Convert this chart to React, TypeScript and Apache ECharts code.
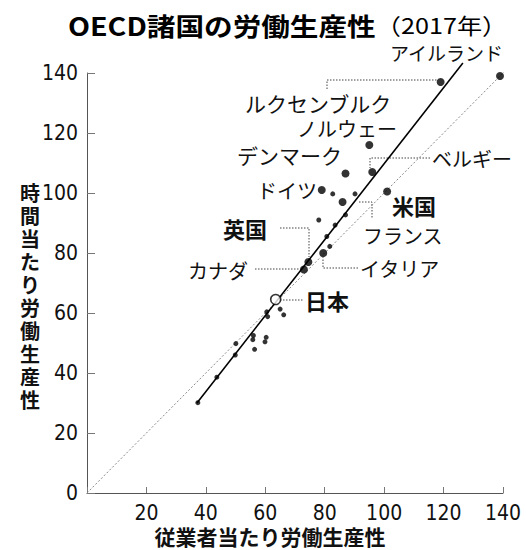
import React, { useEffect, useRef } from 'react';
import * as echarts from 'echarts';

// Labelled countries: [per worker, per hour] (index, US ≈ 100)
const countryNames = ['アイルランド', 'ルクセンブルク', 'ノルウェー', 'ベルギー', 'デンマーク', '米国', 'ドイツ', 'フランス', 'イタリア', '英国', 'カナダ', '日本'];
const countryPerWorker = [139, 119, 95, 96, 87, 101, 79, 86, 79.5, 74.5, 73, 63.5];
const countryPerHour = [139, 137, 116, 107, 106.5, 100.5, 101, 97, 80, 77, 74.5, 64.5];

// Other OECD countries (unlabelled)
const otherPerWorker = [82.7, 90.2, 78, 83.5, 87, 80.7, 81.7, 60.5, 60.8, 65, 66.2, 56, 55.8, 60.3, 59.9, 56.4, 50.1, 49.9, 43.7, 37.3];
const otherPerHour = [99.7, 99.7, 91, 89.3, 92.7, 85.5, 82.2, 60.4, 58.8, 61.3, 59.4, 52.5, 51.1, 51.9, 50.4, 47.9, 49.8, 46, 38.6, 30.1];

// Trend line endpoints and the parity (y = x) line endpoints
const trendPerWorker = [37, 126.5];
const trendPerHour = [30, 143.3];
const parityPerWorker = [0, 143];
const parityPerHour = [0, 143];

const axisMin = 0;
const axisMax = 140;
const axisStep = 20;

const titleMain = 'OECD諸国の労働生産性';
const titleSub = '（2017年）';
const xAxisName = '従業者当たり労働生産性';
const yAxisName = '時間当たり労働生産性';

const JP = '"Noto Sans CJK JP", "Noto Sans", sans-serif';
const NUM = '"Liberation Sans Narrow", "DejaVu Sans Condensed", "Liberation Sans", sans-serif';

export default function App() {
  const ref = useRef<HTMLDivElement>(null);
  useEffect(() => {
    if (!ref.current) return;
    const chart = echarts.init(ref.current, null, { renderer: 'svg' });

    const labelled = countryNames.map((n, i) => {
      const isJapan = n === '日本';
      return {
        name: n,
        value: [countryPerWorker[i], countryPerHour[i]],
        symbolSize: isJapan ? 10 : 8,
        itemStyle: isJapan
          ? { color: '#ffffff', borderColor: '#000000', borderWidth: 1.6 }
          : { color: '#000000' },
      };
    });
    const others = otherPerWorker.map((x, i) => [x, otherPerHour[i]]);
    const trend = trendPerWorker.map((x, i) => [x, trendPerHour[i]]);
    const parity = parityPerWorker.map((x, i) => [x, parityPerHour[i]]);

    const leader = (pts: number[][]) => ({
      type: 'polyline',
      shape: { points: pts },
      style: { stroke: '#444', lineWidth: 1, lineDash: [1.5, 1.5], fill: null },
      silent: true,
    });
    const label = (text: string, x: number, y: number, opts: any = {}) => ({
      type: 'text',
      x,
      y,
      style: {
        text,
        fill: '#111',
        font: `${opts.weight || 'normal'} ${opts.size || 20}px ${JP}`,
        textVerticalAlign: 'middle',
        textAlign: 'left',
      },
      silent: true,
    });

    // vertical (stacked) y-axis name, one glyph per element
    const yNameChars = yAxisName.split('').map((ch, i) => ({
      type: 'text',
      x: 30,
      y: 192 + i * 23,
      style: {
        text: ch,
        font: `bold 20px ${JP}`,
        fill: '#111',
        textAlign: 'center',
        textVerticalAlign: 'middle',
      },
      silent: true,
    }));

    chart.setOption({
      animation: false,
      backgroundColor: '#ffffff',
      grid: { left: 87, right: 23, top: 73, bottom: 57, containLabel: false },
      xAxis: {
        type: 'value',
        min: axisMin,
        max: axisMax,
        interval: axisStep,
        axisLine: { show: true, lineStyle: { color: '#555', width: 1 } },
        axisTick: { show: true, inside: true, length: 6, lineStyle: { color: '#777', width: 1 } },
        axisLabel: {
          formatter: (v: number) => (v === 0 ? '' : String(v)),
          fontSize: 21,
          fontFamily: NUM,
          color: '#111',
          margin: 9,
        },
        splitLine: { show: false },
      },
      yAxis: {
        type: 'value',
        min: axisMin,
        max: axisMax,
        interval: axisStep,
        axisLine: { show: true, lineStyle: { color: '#555', width: 1 } },
        axisTick: { show: true, inside: true, length: 8, lineStyle: { color: '#777', width: 1 } },
        axisLabel: {
          fontSize: 21,
          fontFamily: NUM,
          color: '#111',
          margin: 9,
        },
        splitLine: { show: false },
      },
      series: [
        {
          type: 'line',
          data: parity,
          symbol: 'none',
          clip: false,
          lineStyle: { color: '#888', width: 1, type: [2, 2] },
          z: 1,
          silent: true,
        },
        {
          type: 'line',
          data: trend,
          symbol: 'none',
          clip: false,
          lineStyle: { color: '#000', width: 1.6 },
          z: 2,
          silent: true,
        },
        {
          type: 'scatter',
          data: others,
          symbolSize: 5,
          itemStyle: { color: '#000' },
          z: 3,
        },
        {
          type: 'scatter',
          data: labelled,
          z: 4,
        },
      ],
      graphic: [
        {
          type: 'text',
          x: 68,
          y: 25,
          scaleX: 1.145,
          scaleY: 1,
          style: {
            rich: {
              b: { font: `bold 25px ${JP}`, fill: '#000' },
              n: { font: `normal 22px ${JP}`, fill: '#000' },
            },
            text: `{b|${titleMain}}{n|${titleSub}}`,
            textVerticalAlign: 'middle',
          },
        },
        {
          type: 'text',
          x: 270,
          y: 536,
          style: {
            text: xAxisName,
            font: `bold 21px ${JP}`,
            fill: '#111',
            textAlign: 'center',
            textVerticalAlign: 'middle',
          },
        },
        ...yNameChars,
        leader([[327, 89], [327, 80], [437, 80]]),
        leader([[430, 158], [370, 158], [370, 168]]),
        leader([[359, 202], [372, 202], [372, 218]]),
        leader([[280, 228], [309, 228], [309, 257]]),
        leader([[255, 269], [300, 269]]),
        leader([[358, 268], [323, 268], [323, 257]]),
        leader([[280, 300], [303, 300]]),
        label('アイルランド', 390, 52, { size: 19 }),
        label('ルクセンブルク', 245, 103, { size: 21 }),
        label('ノルウェー', 297, 128),
        label('デンマーク', 237, 155, { size: 21 }),
        label('ベルギー', 432, 158),
        label('ドイツ', 257, 190),
        label('米国', 392, 205, { weight: 'bold', size: 22 }),
        label('英国', 223, 228, { weight: 'bold', size: 22 }),
        label('フランス', 363, 235),
        label('カナダ', 188, 270),
        label('イタリア', 360, 268),
        label('日本', 305, 300, { weight: 'bold', size: 22 }),
      ],
    });

    return () => chart.dispose();
  }, []);

  return (
    <div
      ref={ref}
      style={{ position: 'fixed', left: 0, top: 0, width: 526, height: 550, background: '#fff' }}
    />
  );
}
